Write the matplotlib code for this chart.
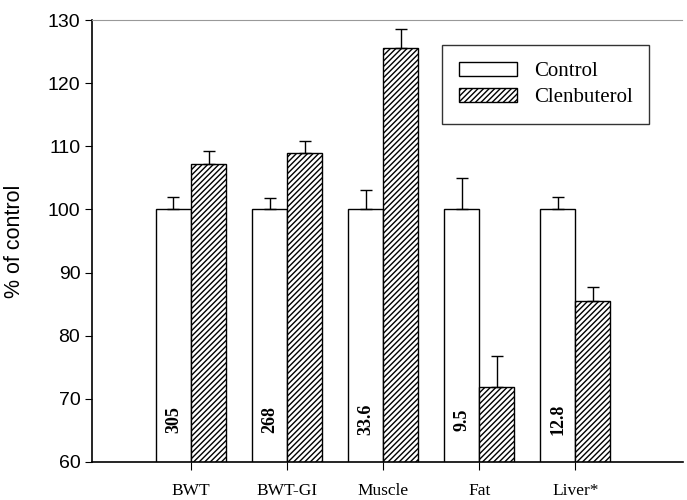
import matplotlib
matplotlib.use("Agg")
import matplotlib.pyplot as plt
import numpy as np

categories = ["BWT", "BWT-GI", "Muscle", "Fat", "Liver*"]
control = [100, 100, 100, 100, 100]
control_err = [2.0, 1.8, 3.0, 5.0, 2.0]
clenbuterol = [107.2, 109.0, 125.5, 71.8, 85.5]
clen_err = [2.0, 1.8, 3.0, 5.0, 2.2]
bar_labels = ["305", "268", "33.6", "9.5", "12.8"]

serif = "Liberation Serif"
sans = "Liberation Sans"
plt.rcParams["hatch.linewidth"] = 1.0

fig = plt.figure(figsize=(6.87, 5.0), dpi=100)
ax = fig.add_axes([0.134, 0.076, 0.86, 0.884])

x = np.arange(1, len(categories) + 1)
w = 0.365

ax.bar(x - w, control, w, align="edge", color="white", edgecolor="black",
       linewidth=1.0, label="Control", zorder=2)
ax.bar(x, clenbuterol, w, align="edge", color="white", edgecolor="black",
       hatch="//////", linewidth=1.0, label="Clenbuterol", zorder=2)

ax.errorbar(x - w / 2, control, yerr=[np.zeros(5), control_err], fmt="none",
            ecolor="black", elinewidth=1.0, capsize=4, capthick=1.0, zorder=3)
ax.errorbar(x + w / 2, clenbuterol, yerr=[np.zeros(5), clen_err], fmt="none",
            ecolor="black", elinewidth=1.0, capsize=4, capthick=1.0, zorder=3)

for xi, lab in zip(x, bar_labels):
    ax.text(xi - w / 2, 66.7, lab, rotation=90, ha="center", va="center",
            fontsize=13, fontweight="bold", family=serif, zorder=4)

ax.set_ylim(60, 130)
ax.set_xlim(-0.03, 6.12)
ax.set_yticks(range(60, 131, 10))
ax.set_xticks(x)
ax.set_xticklabels(categories, family=serif, fontsize=12.5)
for t in ax.get_yticklabels():
    t.set_family(sans)
    t.set_fontsize(14)
ax.tick_params(axis="x", length=6, pad=9, direction="out")
ax.tick_params(axis="y", length=5, direction="out")
ax.set_ylabel("% of control", family=sans, fontsize=15.5, labelpad=16)

ax.spines["right"].set_visible(False)
ax.spines["top"].set_color("#999999")
ax.spines["top"].set_linewidth(0.8)
ax.spines["top"].set_linestyle((0, (1, 1)))
for s in ["left", "bottom"]:
    ax.spines[s].set_linewidth(1.2)

leg = ax.legend(loc="upper right", bbox_to_anchor=(0.943, 0.943),
                borderaxespad=0, prop={"family": serif, "size": 15},
                frameon=True, fancybox=False, edgecolor="black",
                handlelength=2.8, handleheight=0.7, borderpad=0.8,
                labelspacing=0.3)
leg.get_frame().set_linewidth(1.0)

fig.savefig("out.png", dpi=100)
